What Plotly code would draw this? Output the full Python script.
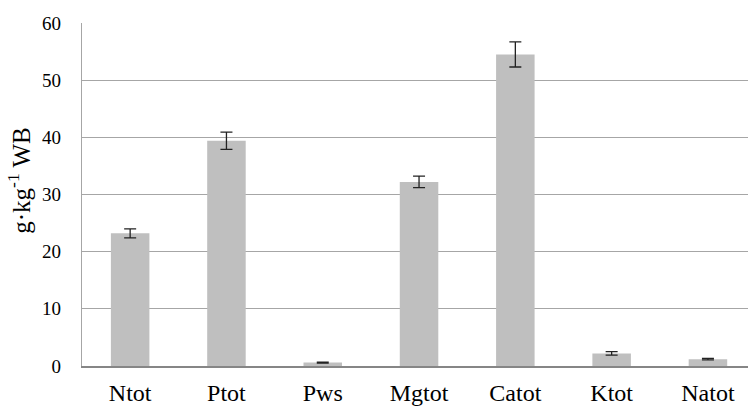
import plotly.graph_objects as go

# Element contents (g·kg-1 WB) with standard deviations
elements = ["Ntot", "Ptot", "Pws", "Mgtot", "Catot", "Ktot", "Natot"]
means = [23.2, 39.4, 0.6, 32.2, 54.5, 2.2, 1.2]
errors = [0.8, 1.5, 0.08, 1.0, 2.2, 0.3, 0.12]
y_ticks = [0, 10, 20, 30, 40, 50, 60]
y_title = "g·kg<sup>-1</sup> WB"

serif = "Liberation Serif"

fig = go.Figure(
    go.Bar(
        x=elements,
        y=means,
        width=0.4,
        marker=dict(color="#BFBFBF", line=dict(width=0)),
        error_y=dict(
            type="data",
            array=errors,
            visible=True,
            color="#222222",
            thickness=1.3,
            width=6,
        ),
    )
)

fig.update_layout(
    width=748,
    height=408,
    margin=dict(l=82, r=0, t=23, b=42),
    paper_bgcolor="white",
    plot_bgcolor="white",
    showlegend=False,
    font=dict(family=serif, color="black"),
    bargap=0.6,
)

fig.update_xaxes(
    type="category",
    range=[-0.5, 6.416],
    showgrid=False,
    showline=True,
    linecolor="#868686",
    linewidth=2,
    ticks="",
    tickfont=dict(size=24, family=serif, color="black"),
    ticklabelstandoff=4,
)

fig.update_yaxes(
    range=[0, 60],
    tickvals=y_ticks,
    showgrid=True,
    gridcolor="#A6A6A6",
    gridwidth=1.3,
    zeroline=False,
    showline=True,
    linecolor="#A6A6A6",
    linewidth=1.3,
    ticks="",
    tickfont=dict(size=19, family=serif, color="black"),
    ticklabelstandoff=16,
)

# vertical axis title, placed slightly above the plot's middle
fig.add_annotation(
    text=y_title,
    textangle=-90,
    xref="paper",
    yref="paper",
    x=0,
    y=0.54,
    xshift=-63,
    xanchor="center",
    yanchor="middle",
    showarrow=False,
    font=dict(size=25, family=serif, color="black"),
)

fig.write_html("out.html")
